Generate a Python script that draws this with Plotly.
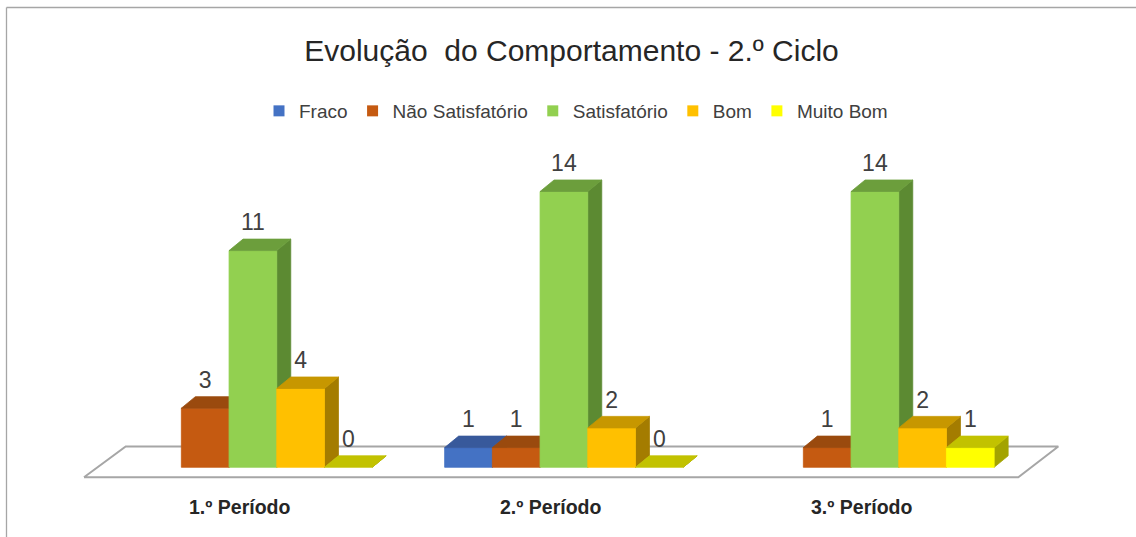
import plotly.graph_objects as go

# ---------------- data ----------------
categories = ["1.º Período", "2.º Período", "3.º Período"]
series_names = ["Fraco", "Não Satisfatório", "Satisfatório", "Bom", "Muito Bom"]
fraco = [None, 1, None]
nao_satisfatorio = [3, 1, 1]
satisfatorio = [11, 14, 14]
bom = [4, 2, 2]
muito_bom = [0, 0, 1]
title_text = "Evolução\u00a0 do Comportamento - 2.º Ciclo"

series_values = [fraco, nao_satisfatorio, satisfatorio, bom, muito_bom]

front_colors = ["#4472C4", "#C55A11", "#92D050", "#FFC000", "#FFFF00"]
top_colors = ["#38599B", "#9A4A0E", "#6C9E3C", "#C79700", "#C2C200"]
side_colors = ["#2E4A80", "#7E3C0A", "#5C8A32", "#A47C00", "#A3A300"]

FONT = "Liberation Sans, Arial, sans-serif"

# ---------------- geometry (layout constants) ----------------
W, H = 1136, 537
ML, MR, MT, MB = 20, 20, 140, 20
KX = 311.0      # px per category
KY = 19.7       # px per value unit
X_ZERO_PX = 252.9
Y_ZERO_PX = 467.3

x0 = -(X_ZERO_PX - ML) / KX
x1 = x0 + (W - ML - MR) / KX
y1 = (Y_ZERO_PX - MT) / KY
y0 = y1 - (H - MT - MB) / KY

bar_w = 47.7 / KX
dx = 14.0 / KX
dy = 11.5 / KY
label_off = 26.0 / KY


def px_x(p):
    return x0 + (p - ML) / KX


def px_y(p):
    return (Y_ZERO_PX - p) / KY


def poly(xs, ys, fill, line_color=None, line_width=0.8):
    return go.Scatter(
        x=xs + [xs[0]], y=ys + [ys[0]], mode="lines", fill="toself",
        fillcolor=fill, line=dict(color=line_color or fill, width=line_width),
        hoverinfo="skip", showlegend=False,
    )


fig = go.Figure()

# floor
fl_front_y, fl_back_y = px_y(477.3), px_y(446.5)
fig.add_trace(poly(
    [px_x(84), px_x(1018.3), px_x(1058.3), px_x(125.7)],
    [fl_front_y, fl_front_y, fl_back_y, fl_back_y],
    "white", "#A6A6A6", 2,
))

lab_x, lab_y, lab_t = [], [], []
for i, _ in enumerate(categories):
    for j, vals in enumerate(series_values):
        v = vals[i]
        if v is None:
            continue
        xl = i + (j - 2) * bar_w - bar_w / 2
        xr = xl + bar_w
        # side face
        fig.add_trace(poly([xr, xr + dx, xr + dx, xr], [0, dy, v + dy, v], side_colors[j]))
        # front face
        if v > 0:
            fig.add_trace(poly([xl, xr, xr, xl], [0, 0, v, v], front_colors[j]))
        # top face
        fig.add_trace(poly([xl, xr, xr + dx, xl + dx], [v, v, v + dy, v + dy], top_colors[j]))
        lab_x.append(xl + bar_w / 2)
        lab_y.append(v + label_off)
        lab_t.append(str(v))

fig.add_trace(go.Scatter(
    x=lab_x, y=lab_y, text=lab_t, mode="text", textposition="middle center",
    textfont=dict(family=FONT, size=23, color="#404040"),
    hoverinfo="skip", showlegend=False,
))

# legend entries
for name, col in zip(series_names, front_colors):
    fig.add_trace(go.Scatter(
        x=[None], y=[None], mode="markers", name=name,
        marker=dict(symbol="square", size=11, color=col),
    ))

# category labels
for i, cat in enumerate(categories):
    fig.add_annotation(
        x=i - 0.0415, y=px_y(506.7), xref="x", yref="y", text=f"<b>{cat}</b>",
        showarrow=False, font=dict(family=FONT, size=19.5, color="#262626"),
    )

plot_w = W - ML - MR
plot_h = H - MT - MB


def paper_x(p):
    return (p - ML) / plot_w


def paper_y(p):
    return (H - MB - p) / plot_h


# chart border (left + top)
fig.add_shape(type="line", xref="paper", yref="paper",
              x0=paper_x(6.5), y0=paper_y(7.5), x1=paper_x(1140), y1=paper_y(7.5),
              line=dict(color="#A6A6A6", width=1.3))
fig.add_shape(type="line", xref="paper", yref="paper",
              x0=paper_x(6.5), y0=paper_y(7.5), x1=paper_x(6.5), y1=paper_y(545),
              line=dict(color="#A6A6A6", width=1.3))

fig.update_layout(
    width=W, height=H,
    margin=dict(l=ML, r=MR, t=MT, b=MB),
    paper_bgcolor="white", plot_bgcolor="white",
    title=dict(text=title_text, x=571.5 / W, xref="container", xanchor="center",
               y=1 - 50 / H, yref="container", yanchor="middle",
               font=dict(family=FONT, size=30, color="#262626")),
    xaxis=dict(range=[x0, x1], visible=False, showgrid=False, zeroline=False),
    yaxis=dict(range=[y0, y1], visible=False, showgrid=False, zeroline=False),
    legend=dict(orientation="h", x=paper_x(576), xanchor="center",
                y=paper_y(111), yanchor="middle",
                font=dict(family=FONT, size=19, color="#404040"),
                bgcolor="rgba(0,0,0,0)"),
    showlegend=True,
)

fig.write_html(
    "out.html",
    config={"displayModeBar": False},
    post_script="document.body.style.margin='0';document.body.style.overflow='hidden';",
)
